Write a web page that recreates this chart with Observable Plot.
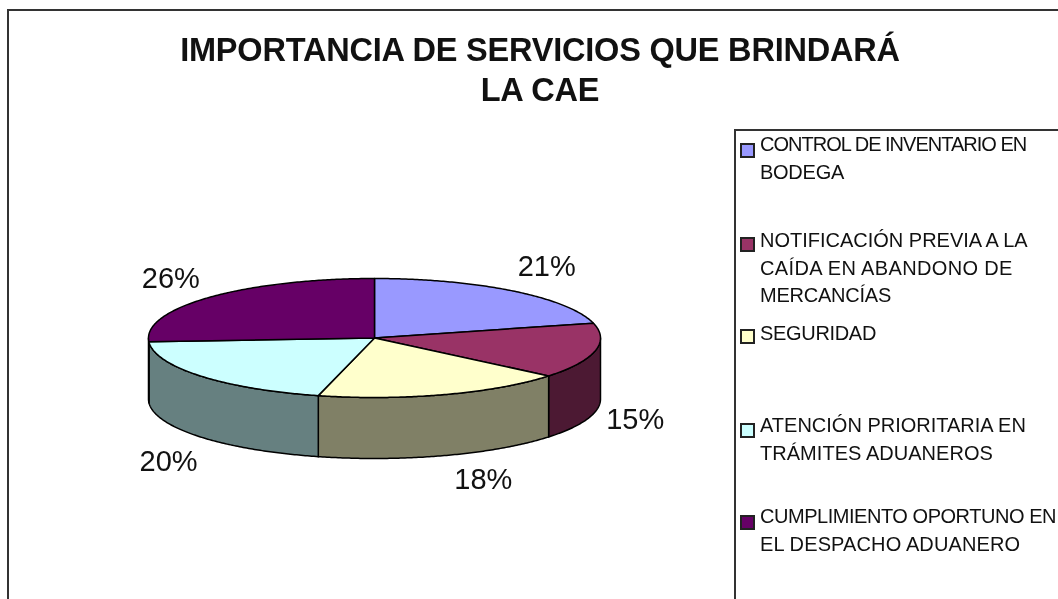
<!DOCTYPE html>
<html><head><meta charset="utf-8">
<script src="https://cdn.jsdelivr.net/npm/d3@7"></script>
<script src="https://cdn.jsdelivr.net/npm/@observablehq/plot@0.6"></script>
<style>
html,body{margin:0;padding:0;background:#fff;overflow:hidden}
#stage{position:relative;width:1058px;height:599px;overflow:hidden;font-family:"Liberation Sans",Arial,sans-serif;color:#111;filter:blur(.45px)}
#stage svg{position:absolute;left:0;top:0}
#frame{position:absolute;left:7px;top:9px;width:1070px;height:620px;border:2px solid #333;box-sizing:border-box}
#title{position:absolute;left:140px;top:30px;width:800px;text-align:center;font-weight:bold;font-size:32.5px;line-height:40px;letter-spacing:-.2px;margin:0}
#legend{position:absolute;left:734px;top:129px;width:340px;height:500px;border:2px solid #333;box-sizing:border-box}
.line{position:absolute;left:24px;font-size:20px;line-height:27.5px;white-space:pre}
.sw{position:absolute;left:4px;width:15px;height:15px;border:2px solid #222;box-sizing:border-box}
</style></head><body>
<div id="stage"></div>
<script>
const title = ["IMPORTANCIA DE SERVICIOS QUE BRINDARÁ", "LA CAE"];
const categories = ["CONTROL DE INVENTARIO EN BODEGA","NOTIFICACIÓN PREVIA A LA CAÍDA EN ABANDONO DE MERCANCÍAS","SEGURIDAD","ATENCIÓN PRIORITARIA EN TRÁMITES ADUANEROS","CUMPLIMIENTO OPORTUNO EN EL DESPACHO ADUANERO"];
const legendLines = [["CONTROL DE INVENTARIO EN","BODEGA"],["NOTIFICACIÓN PREVIA A LA","CAÍDA EN ABANDONO DE","MERCANCÍAS"],["SEGURIDAD"],["ATENCIÓN PRIORITARIA EN","TRÁMITES ADUANEROS"],["CUMPLIMIENTO OPORTUNO EN","EL DESPACHO ADUANERO"]];
const legendLineWidths = [[267,84],[271,255,131],[116],[267,234],[296,262]];
const values = [21, 15, 18, 20, 26];
const topColors = ["#9999FF","#993366","#FFFFCC","#CCFFFF","#660066"];
const sideColors = ["#4C4C80","#4C1933","#808066","#668080","#330033"];

// layout
const W = 1058, H = 599, cx = 374, cy = 337.5, rx = 226, ry = 59.5, depth = 61;
const legendTops = [131, 227, 320, 412, 503];
const swatchCentres = [150, 244, 336, 430, 522];
const labelNudge = [[6,-1],[-4,1],[25,-4],[3,6],[-6,2]];

const total = d3.sum(values);
let acc = 0;
const slices = values.map((v,i)=>{const a0=acc/total*2*Math.PI; acc+=v; return {i,name:categories[i],value:v,a0,a1:acc/total*2*Math.PI};});
const arc = (a0,a1) => { const n=Math.max(2,Math.ceil((a1-a0)/0.01)); return d3.range(n+1).map(k=>a0+(a1-a0)*k/n); };
const u = a => Math.sin(a), v = a => -Math.cos(a);
const topPts = slices.flatMap(s=>[{key:s.name,x:0,y:0},...arc(s.a0,s.a1).map(a=>({key:s.name,x:u(a),y:v(a)}))]);
const d = depth/ry;
const sidePts = slices.flatMap(s=>{
  const lo=Math.max(s.a0,Math.PI/2), hi=Math.min(s.a1,1.5*Math.PI);
  if(hi<=lo) return [];
  const A=arc(lo,hi), k="side "+s.name;
  return [...A.map(a=>({key:k,x:u(a),y:v(a)})),...A.slice().reverse().map(a=>({key:k,x:u(a),y:v(a)+d}))];
});
const labels = slices.map(s=>{
  const m=(s.a0+s.a1)/2, front=Math.cos(m)<-0.1;
  return {text:Math.round(s.value/total*100)+"%",x:u(m)*1.2,y:v(m)*1.5+(front?d:0),n:labelNudge[s.i]};
});

const poly = (data)=>Plot.line(data,{x:"x",y:"y",z:"key",fill:"key",stroke:"#000",strokeWidth:1.5,curve:"linear-closed",strokeLinejoin:"round"});
const chart = Plot.plot({
  width:W,height:H,margin:0,
  x:{domain:[-cx/rx,(W-cx)/rx],range:[0,W],axis:null},
  y:{domain:[-cy/ry,(H-cy)/ry],range:[0,H],axis:null},
  color:{domain:[...categories,...categories.map(c=>"side "+c)],range:[...topColors,...sideColors]},
  style:{background:"transparent"},
  marks:[
    poly(sidePts),
    poly(topPts),
    ...labels.map(l=>Plot.text([l],{x:"x",y:"y",text:"text",dx:l.n[0],dy:l.n[1],fontSize:29,fill:"#111",fontFamily:"Liberation Sans"}))
  ]
});
const stage=document.getElementById("stage");
const frame=document.createElement("div");frame.id="frame";stage.append(frame);
stage.append(chart);
const t=document.createElement("h1");t.id="title";t.innerHTML=title.join("<br>");stage.append(t);
const lg=document.createElement("div");lg.id="legend";stage.append(lg);
const ctx=document.createElement("canvas").getContext("2d");
ctx.font='20px "Liberation Sans"';
categories.forEach((c,i)=>{
  const s=document.createElement("div");s.className="sw";s.style.top=(swatchCentres[i]-129-2-7.5)+"px";s.style.background=topColors[i];lg.append(s);
  legendLines[i].forEach((txt,j)=>{
    const it=document.createElement("div");it.className="line";
    it.style.top=(legendTops[i]-131+j*27.5)+"px";
    it.textContent=txt;
    const natural=ctx.measureText(txt).width;
    it.style.letterSpacing=((legendLineWidths[i][j]-natural)/txt.length)+"px";
    lg.append(it);
  });
});
</script></body></html>
